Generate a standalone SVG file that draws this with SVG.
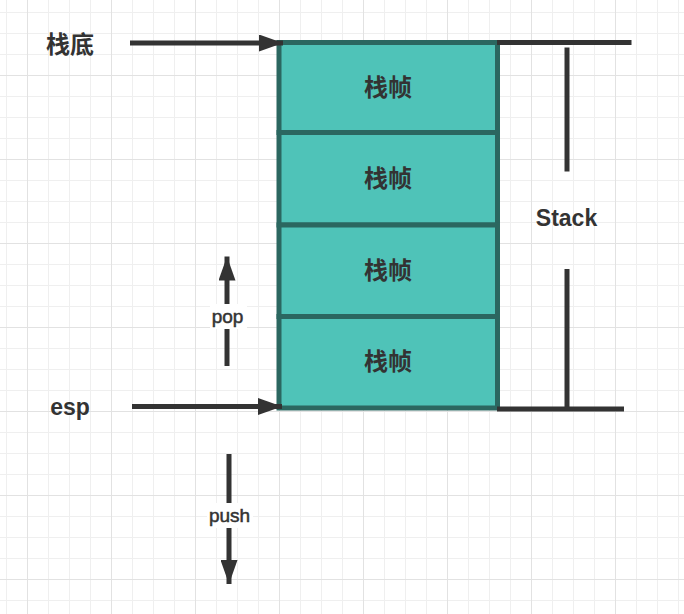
<svg xmlns="http://www.w3.org/2000/svg" width="684" height="614" viewBox="0 0 684 614">
<style>
.lbl{font-family:"Liberation Sans","Noto Sans CJK SC",Arial,sans-serif;fill:#333333;}
.b{font-weight:bold;}
.med{stroke:#333333;stroke-width:0.5;}
.cjk{font-family:"Noto Sans CJK SC","Liberation Sans",sans-serif;font-weight:bold;fill:#333333;}
.cell{fill:#4fc3b8;stroke:#2b6760;stroke-width:5;}
.conn{stroke:#333333;stroke-width:5;fill:none;}
.brk{stroke:#333333;stroke-width:5;fill:none;}
</style>
<defs>
<pattern id="minor" patternUnits="userSpaceOnUse" x="6" y="12" width="21" height="21">
<path d="M0.5,0V21M0,0.5H21" stroke="#efefef" stroke-width="1" fill="none"/>
</pattern>
<pattern id="major" patternUnits="userSpaceOnUse" x="27" y="75" width="84" height="84">
<path d="M0.5,0V84M0,0.5H84" stroke="#e2e2e2" stroke-width="1" fill="none"/>
</pattern>
<marker id="ah" markerUnits="userSpaceOnUse" viewBox="0 0 24 17" markerWidth="24" markerHeight="17" refX="24" refY="8.5" orient="auto">
<path d="M0,0L24,8.5L0,17Z" fill="#333333"/>
</marker>
</defs>
<rect width="684" height="614" fill="#ffffff"/>
<rect width="684" height="614" fill="url(#minor)"/>
<rect width="684" height="614" fill="url(#major)"/>

<g id="stack">
<rect class="cell" x="279" y="42.5" width="218.5" height="90"/>
<rect class="cell" x="279" y="132.5" width="218.5" height="92.5"/>
<rect class="cell" x="279" y="225" width="218.5" height="91.5"/>
<rect class="cell" x="279" y="316.5" width="218.5" height="91.5"/>
<text class="cjk" x="388" y="85" font-size="24" text-anchor="middle" dominant-baseline="central">栈帧</text>
<text class="cjk" x="388" y="176.5" font-size="24" text-anchor="middle" dominant-baseline="central">栈帧</text>
<text class="cjk" x="388" y="268" font-size="24" text-anchor="middle" dominant-baseline="central">栈帧</text>
<text class="cjk" x="388" y="359.5" font-size="24" text-anchor="middle" dominant-baseline="central">栈帧</text>
</g>

<g id="label-bottom">
<text class="cjk" x="70" y="42" font-size="24" text-anchor="middle" dominant-baseline="central">栈底</text>
</g>
<g id="label-esp">
<text class="lbl b" x="70" y="415" font-size="23" text-anchor="middle">esp</text>
</g>

<g id="connectors">
<line class="conn" x1="130" y1="43" x2="283" y2="43" marker-end="url(#ah)"/>
<line class="conn" x1="132" y1="406.5" x2="282" y2="406.5" marker-end="url(#ah)"/>
<line class="conn" x1="227" y1="366" x2="227" y2="256.5" marker-end="url(#ah)"/>
<line class="conn" x1="229" y1="454" x2="229" y2="584" marker-end="url(#ah)"/>
<rect x="210" y="304" width="37" height="25" fill="#ffffff"/>
<text class="lbl med" x="227.5" y="322.7" font-size="19" text-anchor="middle">pop</text>
<rect x="207" y="503" width="46" height="25" fill="#ffffff"/>
<text class="lbl med" x="229.5" y="521.7" font-size="19" text-anchor="middle">push</text>
</g>

<g id="stack-bracket">
<line class="brk" x1="497" y1="42.5" x2="631.5" y2="42.5"/>
<line class="brk" x1="497" y1="409" x2="624" y2="409"/>
<line class="brk" x1="567" y1="47.5" x2="567" y2="171.5"/>
<line class="brk" x1="567" y1="269" x2="567" y2="409"/>
<text class="lbl b" x="566.5" y="225.5" font-size="23" text-anchor="middle">Stack</text>
</g>
</svg>
